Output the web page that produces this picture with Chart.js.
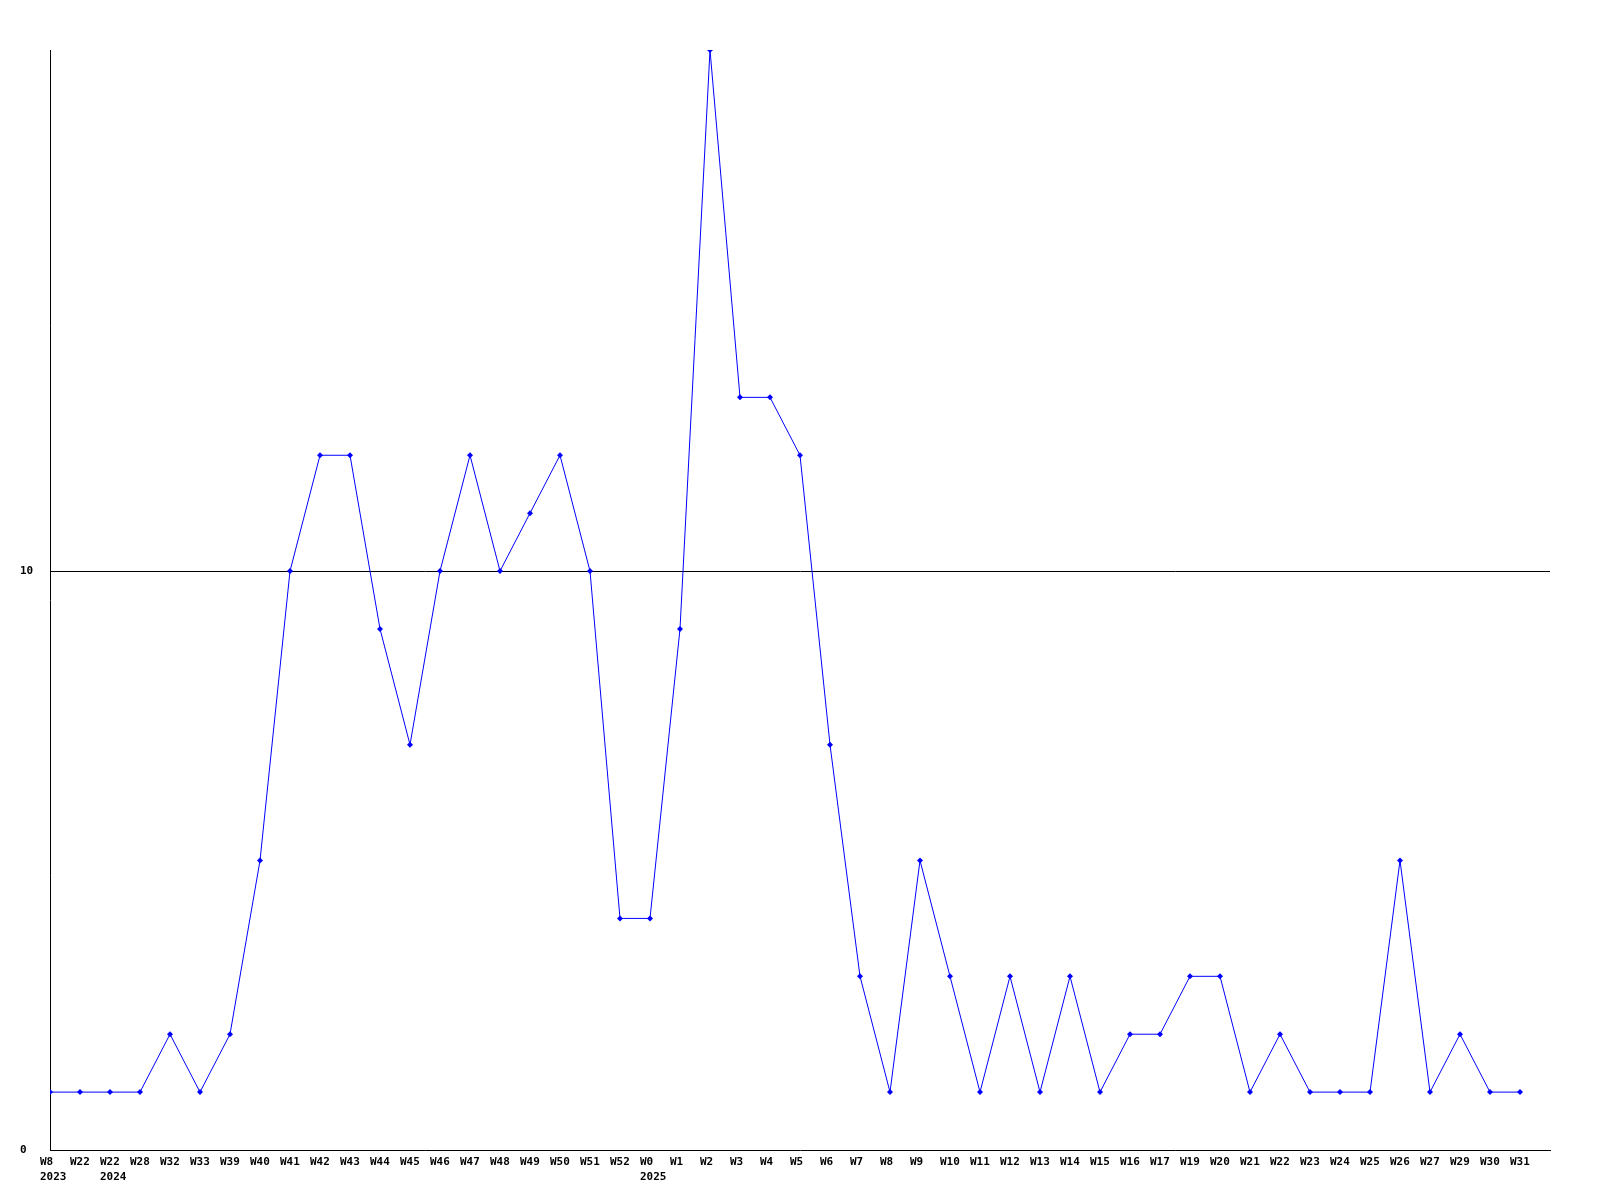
<!DOCTYPE html>
<html>
<head>
<meta charset="utf-8">
<script src="https://cdn.jsdelivr.net/npm/chart.js@4/dist/chart.umd.min.js"></script>
<style>
  html, body { margin: 0; padding: 0; background: #ffffff; }
  #wrap { width: 1600px; height: 1200px; position: relative; }
</style>
</head>
<body>
<div id="wrap"><canvas id="c" width="1600" height="1200"></canvas></div>
<script>
// Week labels (second line = year marker, where shown)
const weeks = ["W8","W22","W22","W28","W32","W33","W39","W40","W41","W42",
               "W43","W44","W45","W46","W47","W48","W49","W50","W51","W52",
               "W0","W1","W2","W3","W4","W5","W6","W7","W8","W9",
               "W10","W11","W12","W13","W14","W15","W16","W17","W19","W20",
               "W21","W22","W23","W24","W25","W26","W27","W29","W30","W31"];
const years = {0: "2023", 2: "2024", 20: "2025"};
// Series values
const counts = [1,1,1,1,2,1,2,5,10,12,
                12,9,7,10,12,10,11,12,10,4,
                4,9,19,13,13,12,7,3,1,5,
                3,1,3,1,3,1,2,2,3,3,
                1,2,1,1,1,5,1,2,1,1];
// Y tick labels to show
const yTickLabels = [0, 10];
const yMax = 19;

const FONT = "'DejaVu Sans Mono', 'Liberation Mono', monospace";

const points = counts.map((v, i) => ({ x: i, y: v }));

const labelPlugin = {
  id: 'weekLabels',
  afterDraw(chart) {
    const ctx = chart.ctx;
    const xs = chart.scales.x;
    const top = chart.chartArea.bottom;
    ctx.save();
    ctx.font = "bold 11px " + FONT;
    ctx.fillStyle = "#000000";
    ctx.textAlign = "left";
    ctx.textBaseline = "middle";
    weeks.forEach((w, i) => {
      const px = xs.getPixelForValue(i) - 10;
      ctx.fillText(w, px, top + 12);
      if (years[i]) ctx.fillText(years[i], px, top + 27);
    });
    ctx.restore();
  }
};

new Chart(document.getElementById('c'), {
  type: 'line',
  data: {
    datasets: [{
      data: points,
      borderColor: '#0000ff',
      backgroundColor: '#0000ff',
      borderWidth: 1,
      pointStyle: 'rectRot',
      pointRadius: 3,
      pointBorderWidth: 0,
      pointBackgroundColor: '#0000ff',
      tension: 0,
      fill: false
    }]
  },
  options: {
    responsive: false,
    animation: false,
    devicePixelRatio: 1,
    layout: { padding: { left: 20, top: 50, right: 50, bottom: 0 } },
    plugins: { legend: { display: false }, tooltip: { enabled: false } },
    scales: {
      x: {
        type: 'linear',
        min: 0,
        max: weeks.length,
        ticks: { display: false },
        grid: { display: false, drawTicks: false },
        border: { display: true, color: '#000000', width: 1 },
        afterFit(s) { s.height = 50; }
      },
      y: {
        type: 'linear',
        min: 0,
        max: yMax,
        afterBuildTicks(s) { s.ticks = yTickLabels.map(v => ({ value: v })); },
        ticks: {
          crossAlign: 'far',
          padding: 0,
          color: '#000000',
          font: { family: FONT, size: 11, weight: 'bold' },
          callback: (v) => String(v)
        },
        grid: {
          drawTicks: false,
          color: (c) => (c.tick && c.tick.value === 10) ? '#000000' : 'rgba(0,0,0,0)',
          lineWidth: 1
        },
        border: { display: true, color: '#000000', width: 1 },
        afterFit(s) { s.width = 30; }
      }
    }
  },
  plugins: [labelPlugin]
});
</script>
</body>
</html>
